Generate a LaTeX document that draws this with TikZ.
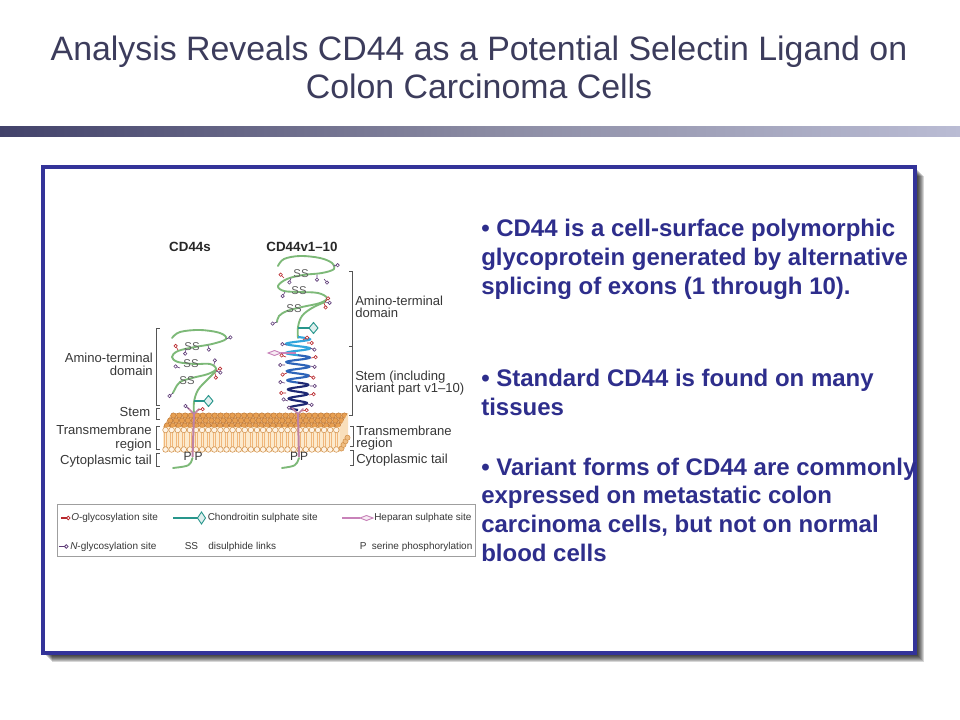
\documentclass[tikz,border=0pt]{standalone}
\usepackage{fontspec}
\setmainfont{Liberation Sans}
\usetikzlibrary{shapes.geometric}
\definecolor{framec}{RGB}{51,51,153}
\definecolor{titlec}{RGB}{60,60,92}
\definecolor{bulletc}{RGB}{46,46,140}
\definecolor{barL}{RGB}{66,66,106}
\definecolor{barM}{RGB}{138,138,162}
\definecolor{barR}{RGB}{186,188,212}
\definecolor{chainc}{RGB}{125,185,120}
\definecolor{chondc}{RGB}{40,150,140}
\definecolor{hepc}{RGB}{200,130,185}
\definecolor{tmc}{RGB}{190,130,165}
\definecolor{ored}{RGB}{185,40,45}
\definecolor{nblue}{RGB}{95,60,120}
\definecolor{lipo}{RGB}{232,160,82}
\definecolor{lipod}{RGB}{180,112,52}
\definecolor{lipol}{RGB}{252,234,205}
\definecolor{tailc}{RGB}{240,182,122}
\definecolor{labc}{RGB}{55,55,55}
\definecolor{hxa}{RGB}{50,165,220}
\definecolor{hxb}{RGB}{45,100,185}
\definecolor{hxc}{RGB}{30,40,115}
\newcommand{\glyc}[4]{\draw[#4, fill=white, line width=0.45pt] (#1,#2) -- ++(#3:3) ++(#3:1.7) circle (1.7);}
\tikzset{
  titlest/.style={anchor=base, inner sep=0pt, text=titlec, font=\fontsize{25.4}{30}\selectfont},
  bul/.style={anchor=base west, inner sep=0pt, text=bulletc, font=\fontsize{18}{22}\selectfont\bfseries},
  lab/.style={inner sep=0pt, text=labc, font=\fontsize{9.8}{10}\selectfont},
  labL/.style={lab, anchor=base east},
  labR/.style={lab, anchor=base west},
  hdr/.style={inner sep=0pt, text=labc!70!black, font=\fontsize{10}{12}\selectfont\bfseries},
  ssl/.style={inner sep=0pt, text=labc!80, font=\fontsize{8.5}{9}\selectfont},
  pl/.style={inner sep=0pt, text=labc, font=\fontsize{9}{9}\selectfont},
  leg/.style={anchor=west, inner sep=0pt, text=labc, font=\fontsize{7.5}{9}\selectfont},
  brk/.style={draw=labc!85, line width=0.6pt},
  chainst/.style={draw=chainc, line width=1.4pt, line cap=round, line join=round},
  gO/.style={draw=ored},
  gN/.style={draw=nblue},
}
\begin{document}
\begin{tikzpicture}[x=0.75pt,y=-0.75pt]
\useasboundingbox (0,0) rectangle (960,720);
\fill[white] (0,0) rectangle (960,720);
% title
\node[titlest] (t1) at (479,61) {Analysis Reveals CD44 as a Potential Selectin Ligand on};
\node[titlest] (t2) at (479,99) {Colon Carcinoma Cells};
% bar
\shade[left color=barL, right color=barR, middle color=barM] (0,127) rectangle (960,137);
% shadow and frame
\foreach \d in {3,4,5,6,7,8,9}{\fill[black, opacity=0.16] (42.7+\d,167.5+\d) rectangle (915+\d,652.5+\d);}
\draw[framec, line width=3pt, fill=white] (42.7,167.5) rectangle (915,652.5);
% bullets
\node[bul] (b1) at (481,236.5) {• CD44 is a cell-surface polymorphic};
\node[bul] (b2) at (481,265.5) {glycoprotein generated by alternative};
\node[bul] (b3) at (481,294.5) {splicing of exons (1 through 10).};
\node[bul] (b4) at (481,386.7) {• Standard CD44 is found on many};
\node[bul] (b5) at (481,415) {tissues};
\node[bul] (b6) at (481,475) {• Variant forms of CD44 are commonly};
\node[bul] (b7) at (481,503.5) {expressed on metastatic colon};
\node[bul] (b8) at (481,532.5) {carcinoma cells, but not on normal};
\node[bul] (b9) at (481,561.5) {blood cells};
% ---------- membrane ----------
\fill[lipo!55!lipol] (172,413) -- (348,413) -- (340,427) -- (163,427) -- cycle;
\foreach \j in {0,1,2}{
  \foreach \i in {0,...,29}{
    \pgfmathsetmacro\yy{415.5+5*\j}
    \pgfmathsetmacro\xx{172-(\yy-413)*0.643+3+5.9*\i}
    \draw[lipod, fill=lipo, line width=0.3pt] (\xx,\yy) circle (2.7);
  }
}
\fill[lipol] (163,427) rectangle (340,452);
\fill[lipol!85!lipo] (340,427) -- (348,413) -- (348,438) -- (340,452) -- cycle;
\foreach \i in {0,...,28}{
  \pgfmathsetmacro\xx{165.5+6.1*\i}
  \draw[tailc, line width=0.5pt] (\xx-1,433) -- (\xx-1,446.5) (\xx+1,433) -- (\xx+1,446.5);
  \draw[lipo!90!black, fill=lipol!50!white, line width=0.4pt] (\xx,430) circle (2.8);
  \draw[lipo!90!black, fill=lipol!50!white, line width=0.4pt] (\xx,449.5) circle (2.8);
}
\foreach \k in {0,1,2,3}{
  \draw[lipo!90!black, fill=lipo!60!lipol, line width=0.4pt] (341.5+2*\k,448.5-3.6*\k) circle (2.6);
}
% ---------- CD44s ----------
\node[hdr] (h1) at (190,247) {CD44s};
\draw[chainst] plot[smooth, tension=0.6] coordinates {(172,338) (180,332) (200,330) (220,333) (226,339) (212,344) (195,347) (178,351) (172,357) (178,362) (195,364) (210,364) (216,369) (208,374) (192,378) (180,382) (175,389) (173,393)};
\draw[chainst] plot[smooth, tension=0.6] coordinates {(194,414) (194,402) (198,390) (207,380) (216,371)};
\node[ssl] (ss1) at (192,347) {SS};
\node[ssl] (ss2) at (191,364) {SS};
\node[ssl] (ss3) at (187,381) {SS};
\glyc{226}{339}{-20}{gN}
\glyc{178}{350}{240}{gO}
\glyc{186}{349}{100}{gN}
\glyc{208}{345}{80}{gN}
\glyc{214}{365}{280}{gN}
\glyc{180}{368}{200}{gN}
\glyc{216}{371}{-30}{gO}
\glyc{216}{371}{20}{gN}
\glyc{215}{373}{80}{gO}
\glyc{173}{393}{140}{gN}
\draw[chondc, line width=1pt] (194,401) -- (204,401);
\draw[chondc, fill=chondc!15, line width=0.7pt] (204,401) -- (208.5,395.5) -- (213,401) -- (208.5,406.5) -- cycle;
\draw[tmc, line width=1.3pt, line cap=round] (188,408) -- (194,414) -- (199,409);
\glyc{189}{409}{220}{gN}
\glyc{198}{410}{-10}{gO}
\draw[tmc, line width=1.5pt] (194,414) -- (192.5,457);
\draw[chainst] (192.5,458) .. controls (190,466) .. (173,468);
% ---------- CD44v1-10 ----------
\node[hdr] (h2) at (302,247) {CD44v1–10};
\draw[chainst] plot[smooth, tension=0.6] coordinates {(278,266) (284,259) (300,256) (320,258) (332,263) (334,269) (322,273) (303,275) (287,279) (278,286) (284,291) (300,292) (318,293) (327,298) (320,303) (302,307) (287,311) (279,316) (277,322)};
\draw[chainst] plot[smooth, tension=0.6] coordinates {(298,338) (298,327) (302,316) (312,308) (325,302)};
\node[ssl] (ss4) at (301,274) {SS};
\node[ssl] (ss5) at (299,291) {SS};
\node[ssl] (ss6) at (294,309) {SS};
\glyc{333}{266}{-10}{gN}
\glyc{284}{278}{225}{gO}
\glyc{291}{278}{110}{gN}
\glyc{317}{275}{90}{gN}
\glyc{324}{279}{50}{gN}
\glyc{285}{292}{120}{gN}
\glyc{325}{302}{-50}{gO}
\glyc{325}{302}{10}{gN}
\glyc{324}{303}{70}{gO}
\glyc{277}{322}{160}{gN}
\draw[chondc, line width=1pt] (298,328) -- (309,328);
\draw[chondc, fill=chondc!15, line width=0.7pt] (309,328) -- (313.5,322.5) -- (318,328) -- (313.5,333.5) -- cycle;
% helix stem
\draw[hxa, line width=1.6pt] plot[domain=0:720, samples=50, smooth] ({298+12*sin(\x)}, {337+\x/2880*73});
\draw[hxb, line width=1.6pt] plot[domain=720:1800, samples=70, smooth] ({298+(12-(\x-720)/1080*1.5)*sin(\x)}, {337+\x/2880*73});
\draw[hxc, line width=1.6pt] plot[domain=1800:2880, samples=70, smooth] ({298+(10.5-(\x-1800)/1080*2)*sin(\x)}, {337+\x/2880*73});
% heparan
\draw[hepc, line width=0.9pt] (296,353) -- (281,353);
\draw[hepc, fill=hepc!15, line width=0.7pt] (281,353) -- (274.5,350.5) -- (268,353) -- (274.5,355.5) -- cycle;
% stem pendants
\glyc{303}{340}{-30}{gO}
\glyc{307}{343}{0}{gO}
\glyc{310}{348}{20}{gN}
\glyc{287}{345}{190}{gN}
\glyc{286}{357}{200}{gO}
\glyc{285}{365}{180}{gN}
\glyc{287}{373}{160}{gO}
\glyc{285}{383}{190}{gN}
\glyc{286}{393}{180}{gO}
\glyc{288}{401}{200}{gN}
\glyc{311}{358}{-10}{gO}
\glyc{310}{366}{10}{gN}
\glyc{309}{376}{20}{gO}
\glyc{310}{386}{0}{gN}
\glyc{309}{395}{-10}{gO}
\glyc{307}{404}{10}{gN}
\draw[tmc, line width=1.3pt, line cap=round] (292,408) -- (298,414) -- (303,409);
\glyc{293}{410}{210}{gN}
\glyc{302}{411}{-10}{gO}
\draw[tmc, line width=1.5pt] (298,414) -- (299,457);
\draw[chainst] (299,458) .. controls (296,466) .. (282,468);
% P labels
\node[pl] (p1) at (187.5,456.5) {P};
\node[pl] (p2) at (198.5,456.5) {P};
\node[pl] (p3) at (294,456.5) {P};
\node[pl] (p4) at (304,456.5) {P};
% ---------- labels & brackets ----------
\node[labL] (l1) at (153,362) {Amino-terminal};
\node[labL] (l2) at (153,375.5) {domain};
\node[labL] (l3) at (150.5,416.5) {Stem};
\node[labL] (l4) at (152,434.5) {Transmembrane};
\node[labL] (l5) at (152,448) {region};
\node[labL] (l6) at (152,464) {Cytoplasmic tail};
\draw[brk] (159.5,328.3) -- (156.5,328.3) -- (156.5,405) -- (159.5,405);
\draw[brk] (159.5,408.5) -- (156.5,408.5) -- (156.5,419) -- (159.5,419);
\draw[brk] (159.5,426.7) -- (156.5,426.7) -- (156.5,449.3) -- (159.5,449.3);
\draw[brk] (159.5,453) -- (156.5,453) -- (156.5,466) -- (159.5,466);
\node[labR] (r1) at (355,305.5) {Amino-terminal};
\node[labR] (r2) at (355,317.5) {domain};
\node[labR] (r3) at (355,380.5) {Stem (including};
\node[labR] (r4) at (355,392.5) {variant part v1–10)};
\node[labR] (r5) at (356,435.5) {Transmembrane};
\node[labR] (r6) at (356,447.5) {region};
\node[labR] (r7) at (356,463.5) {Cytoplasmic tail};
\draw[brk] (349,271.7) -- (352,271.7) -- (352,415) -- (349,415);
\draw[brk] (349,346) -- (352,346);
\draw[brk] (350,426.7) -- (353,426.7) -- (353,446.7) -- (350,446.7);
\draw[brk] (350,450.5) -- (353,450.5) -- (353,465) -- (350,465);
% ---------- legend ----------
\draw[gray!75, line width=0.5pt] (57.5,504) rectangle (475.5,556.5);
\draw[ored, line width=1.2pt] (61,518) -- (66.5,518);
\draw[ored, fill=white, line width=0.6pt] (68.3,518) circle (1.8);
\node[leg] (g1) at (71,518) {\textit{O}-glycosylation site};
\draw[chondc, line width=1.1pt] (173,518) -- (197.5,518);
\draw[chondc, fill=chondc!15, line width=0.7pt] (197.5,518) -- (201.5,512) -- (205.5,518) -- (201.5,524) -- cycle;
\node[leg] (g2) at (207.5,518) {Chondroitin sulphate site};
\draw[hepc, line width=1pt] (342,518) -- (360,518);
\draw[hepc, fill=hepc!15, line width=0.7pt] (360,518) -- (366.5,515.5) -- (373,518) -- (366.5,520.5) -- cycle;
\node[leg] (g3) at (374,518) {Heparan sulphate site};
\draw[nblue, line width=1.2pt] (58.5,546.5) -- (64.5,546.5);
\draw[nblue, fill=white, line width=0.6pt] (66.3,546.5) circle (1.8);
\node[leg] (g4) at (70,546.5) {\textit{N}-glycosylation site};
\node[leg] (g5) at (184.5,546.5) {SS};
\node[leg] (g6) at (208,546.5) {disulphide links};
\node[leg] (g7) at (359.5,546.5) {P};
\node[leg] (g8) at (371.5,546.5) {serine phosphorylation};
\end{tikzpicture}
\end{document}
